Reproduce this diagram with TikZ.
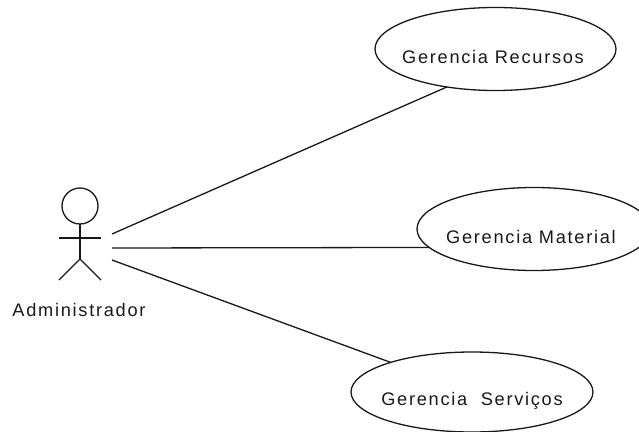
\documentclass[tikz,border=0pt]{standalone}
\usepackage{fontspec}
\setmainfont[LetterSpace=9.5]{Liberation Sans}
\usetikzlibrary{shapes.geometric}
\definecolor{drawColor}{RGB}{25,25,25}
\tikzset{
  usecase/.style={draw=drawColor,ellipse,line width=1.3pt,inner sep=0pt,outer sep=0pt,fill=white},
  usetext/.style={text=drawColor,inner sep=0pt,outer sep=0pt,font=\fontsize{18.2}{21}\selectfont},
  assoc/.style={draw=drawColor,line width=1.3pt},
  stick/.style={draw=drawColor,line width=1.3pt}
}
\begin{document}
\begin{tikzpicture}[x=1pt,y=1pt]
\path[use as bounding box,fill=white] (0,0) rectangle (639,431);

% actor
\draw[stick] (80,225) circle (18);
\draw[stick] (80,207) -- (80,172);
\draw[stick] (59,193) -- (101,193);
\draw[stick] (59,151) -- (80,172) -- (101,151);
\node[usetext] (admin) at (79,121) {Administrador};

% use cases
\node[usecase,minimum width=241pt,minimum height=83pt] (recursos) at (495.5,382) {};
\node[usecase,minimum width=234pt,minimum height=83pt] (material) at (534,202) {};
\node[usecase,minimum width=242pt,minimum height=80pt] (servicos) at (472,39) {};
\node[usetext] (recursosText) at (493,374) {Gerencia Recursos};
\node[usetext] (materialText) at (531,194) {Gerencia Material};
\node[usetext] (servicosText) at (472,30) {Gerencia\ \ Serviços};

% associations
\coordinate (endA) at (112,197);
\coordinate (endB) at (112,183);
\coordinate (endC) at (112,171);
\draw[assoc] (endA) -- (recursos.218);
\draw[assoc] (endB) -- (material.190.5);
\draw[assoc] (endC) -- (servicos.160);
\end{tikzpicture}
\end{document}
